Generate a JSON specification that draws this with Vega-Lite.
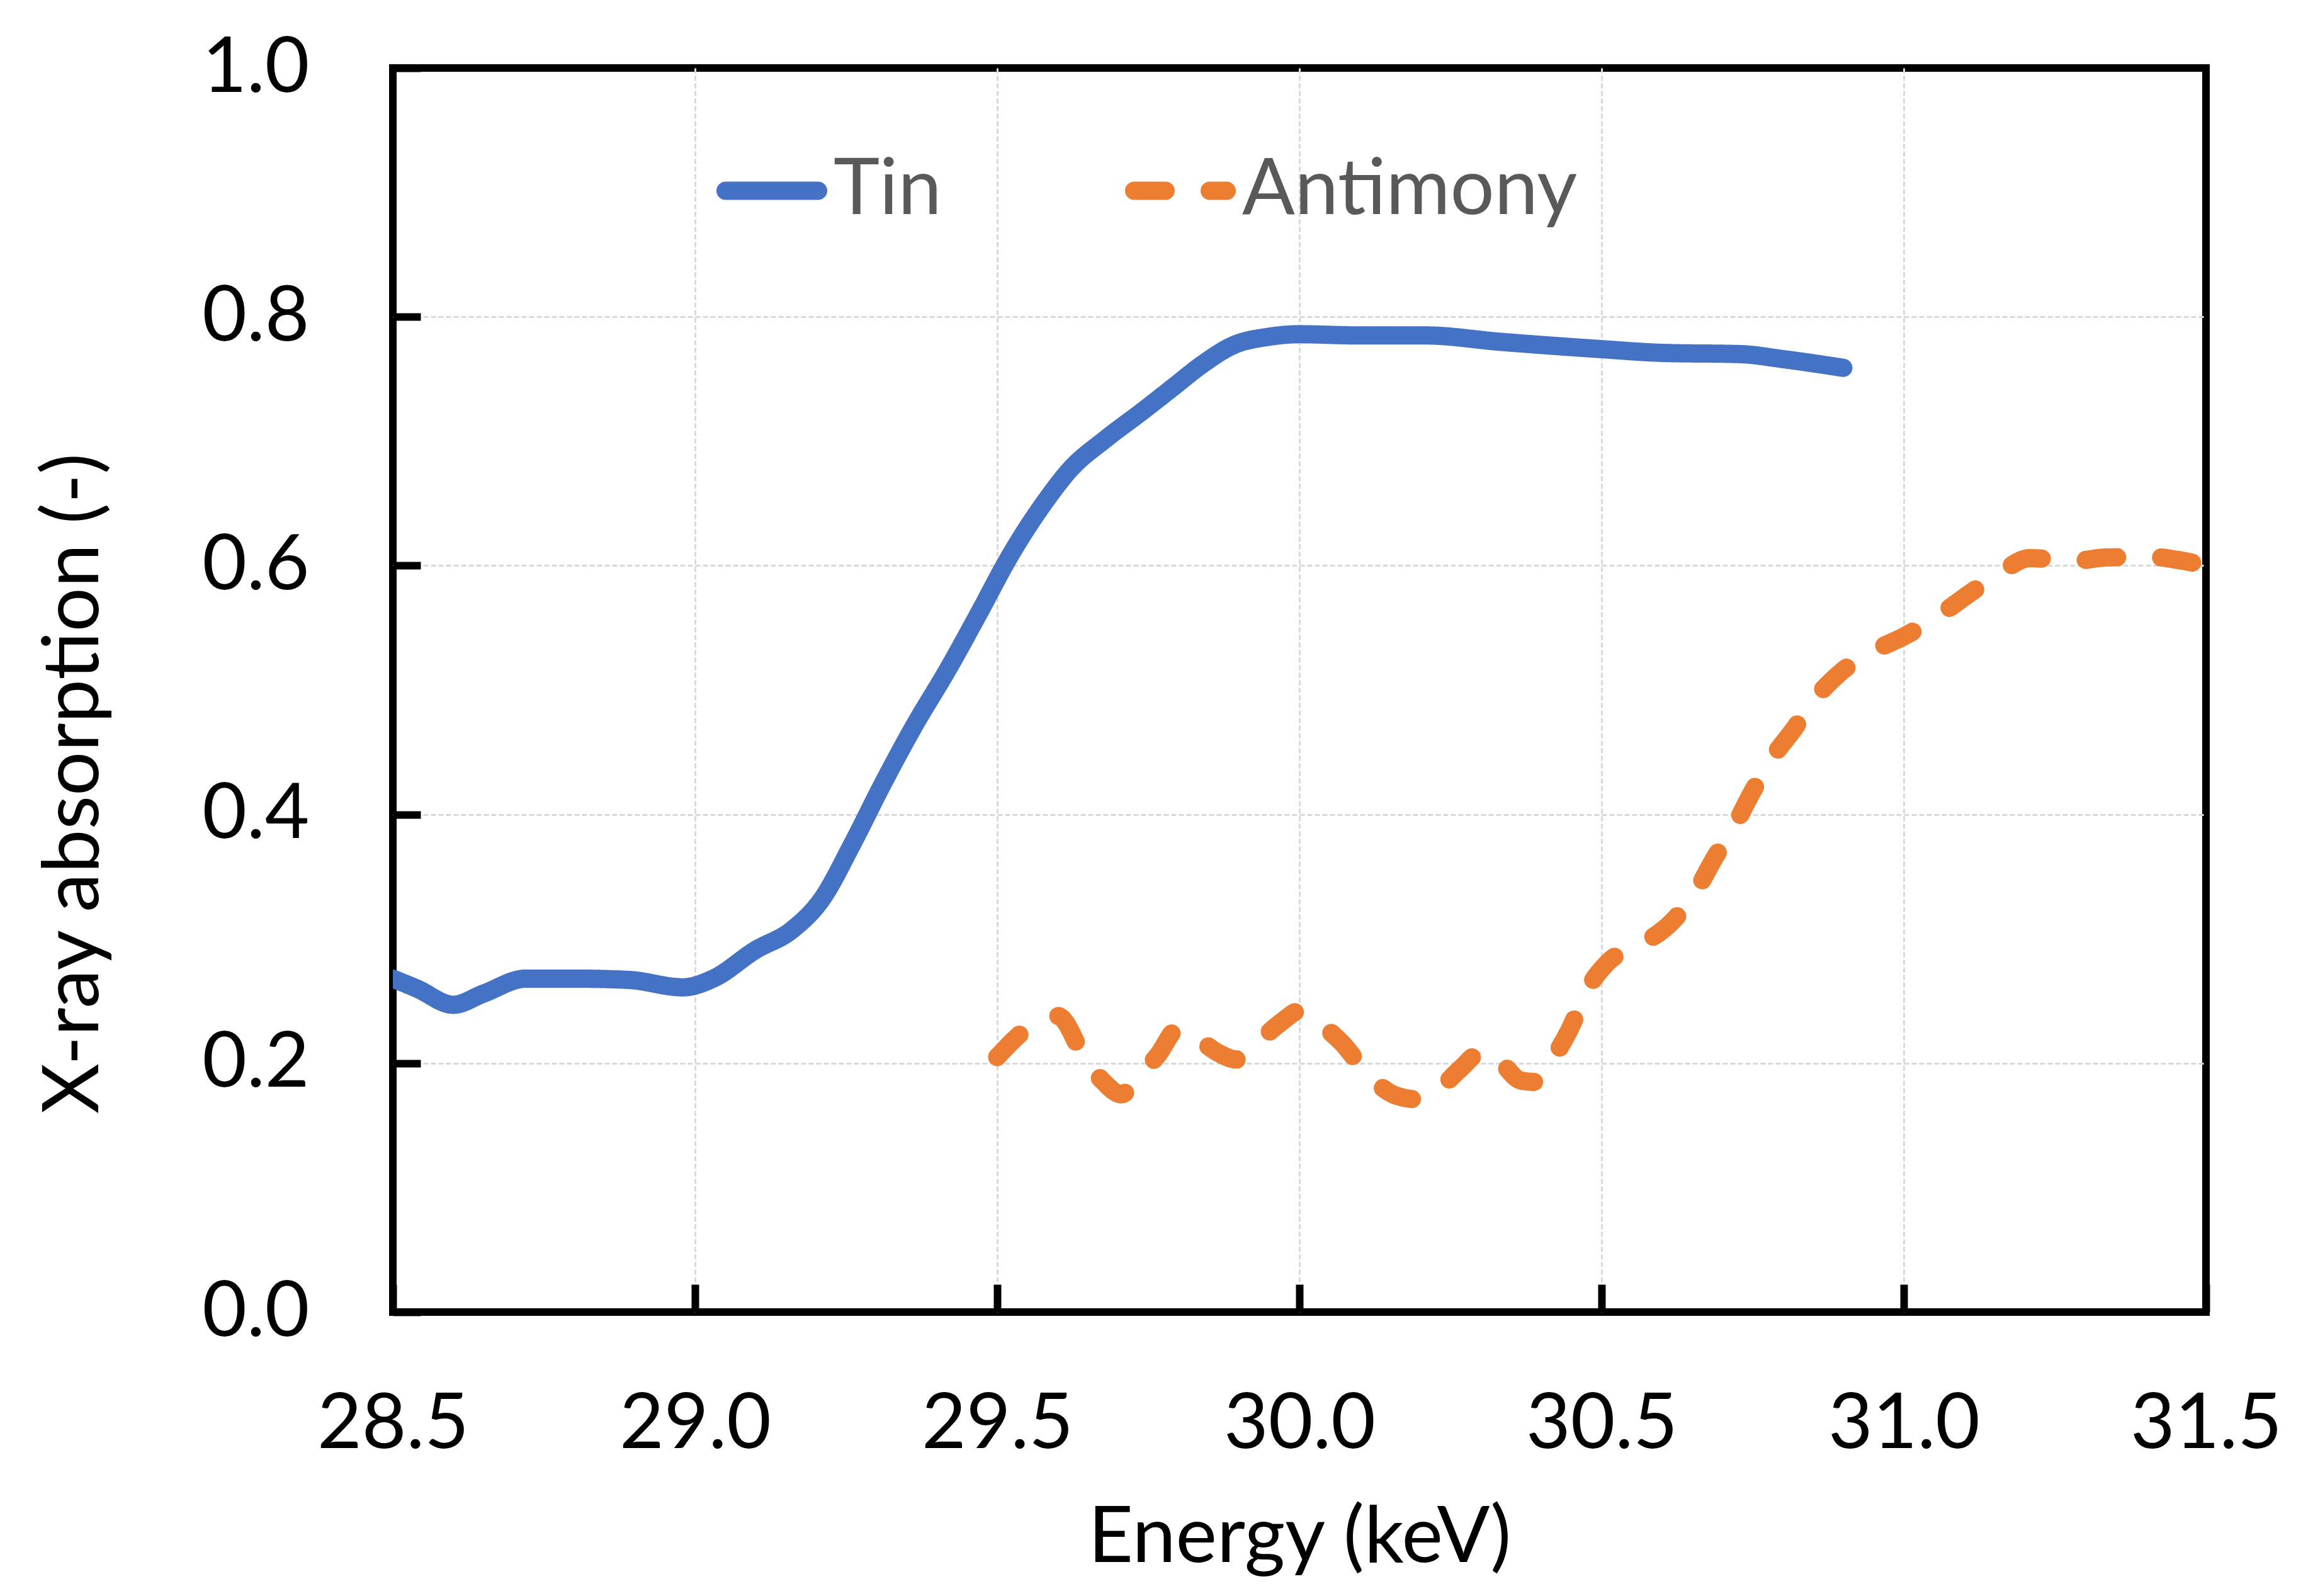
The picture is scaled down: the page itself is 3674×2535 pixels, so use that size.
{
  "$schema": "https://vega.github.io/schema/vega-lite/v6.json",
  "width": 2880,
  "height": 1976,
  "autosize": {"type": "none"},
  "padding": {"left": 624, "top": 108, "right": 170, "bottom": 451},
  "background": "white",
  "data": {
    "values": [
      {"series": "Tin", "energy": 28.5, "absorption": 0.268},
      {"series": "Tin", "energy": 28.54, "absorption": 0.26},
      {"series": "Tin", "energy": 28.6, "absorption": 0.247},
      {"series": "Tin", "energy": 28.65, "absorption": 0.256},
      {"series": "Tin", "energy": 28.72, "absorption": 0.268},
      {"series": "Tin", "energy": 28.8, "absorption": 0.268},
      {"series": "Tin", "energy": 28.89, "absorption": 0.267},
      {"series": "Tin", "energy": 28.98, "absorption": 0.261},
      {"series": "Tin", "energy": 29.03, "absorption": 0.268},
      {"series": "Tin", "energy": 29.1, "absorption": 0.291},
      {"series": "Tin", "energy": 29.16, "absorption": 0.307},
      {"series": "Tin", "energy": 29.21, "absorption": 0.332},
      {"series": "Tin", "energy": 29.26, "absorption": 0.376},
      {"series": "Tin", "energy": 29.31, "absorption": 0.424},
      {"series": "Tin", "energy": 29.36, "absorption": 0.469},
      {"series": "Tin", "energy": 29.42, "absorption": 0.518},
      {"series": "Tin", "energy": 29.47, "absorption": 0.562},
      {"series": "Tin", "energy": 29.52, "absorption": 0.607},
      {"series": "Tin", "energy": 29.58, "absorption": 0.652},
      {"series": "Tin", "energy": 29.62, "absorption": 0.677},
      {"series": "Tin", "energy": 29.68, "absorption": 0.702},
      {"series": "Tin", "energy": 29.74, "absorption": 0.724},
      {"series": "Tin", "energy": 29.79, "absorption": 0.743},
      {"series": "Tin", "energy": 29.84, "absorption": 0.762},
      {"series": "Tin", "energy": 29.89, "absorption": 0.777},
      {"series": "Tin", "energy": 29.95, "absorption": 0.784},
      {"series": "Tin", "energy": 30.0, "absorption": 0.786},
      {"series": "Tin", "energy": 30.1, "absorption": 0.785},
      {"series": "Tin", "energy": 30.21, "absorption": 0.785},
      {"series": "Tin", "energy": 30.33, "absorption": 0.78},
      {"series": "Tin", "energy": 30.5, "absorption": 0.774},
      {"series": "Tin", "energy": 30.6, "absorption": 0.771},
      {"series": "Tin", "energy": 30.73, "absorption": 0.77},
      {"series": "Tin", "energy": 30.8, "absorption": 0.766},
      {"series": "Tin", "energy": 30.9, "absorption": 0.759},
      {"series": "Antimony", "energy": 29.5, "absorption": 0.205},
      {"series": "Antimony", "energy": 29.55, "absorption": 0.228},
      {"series": "Antimony", "energy": 29.6, "absorption": 0.238},
      {"series": "Antimony", "energy": 29.646, "absorption": 0.203},
      {"series": "Antimony", "energy": 29.676, "absorption": 0.185},
      {"series": "Antimony", "energy": 29.705, "absorption": 0.175},
      {"series": "Antimony", "energy": 29.735, "absorption": 0.19},
      {"series": "Antimony", "energy": 29.765, "absorption": 0.206},
      {"series": "Antimony", "energy": 29.8, "absorption": 0.228},
      {"series": "Antimony", "energy": 29.822, "absorption": 0.223},
      {"series": "Antimony", "energy": 29.867, "absorption": 0.208},
      {"series": "Antimony", "energy": 29.896, "absorption": 0.203},
      {"series": "Antimony", "energy": 29.93, "absorption": 0.2165},
      {"series": "Antimony", "energy": 29.97, "absorption": 0.233},
      {"series": "Antimony", "energy": 30.0, "absorption": 0.242},
      {"series": "Antimony", "energy": 30.03, "absorption": 0.233},
      {"series": "Antimony", "energy": 30.07, "absorption": 0.2165},
      {"series": "Antimony", "energy": 30.115, "absorption": 0.19},
      {"series": "Antimony", "energy": 30.16, "absorption": 0.174},
      {"series": "Antimony", "energy": 30.196, "absorption": 0.171},
      {"series": "Antimony", "energy": 30.228, "absorption": 0.178},
      {"series": "Antimony", "energy": 30.265, "absorption": 0.195},
      {"series": "Antimony", "energy": 30.305, "absorption": 0.21},
      {"series": "Antimony", "energy": 30.325, "absorption": 0.205},
      {"series": "Antimony", "energy": 30.367, "absorption": 0.186},
      {"series": "Antimony", "energy": 30.39, "absorption": 0.185},
      {"series": "Antimony", "energy": 30.418, "absorption": 0.203},
      {"series": "Antimony", "energy": 30.447, "absorption": 0.227},
      {"series": "Antimony", "energy": 30.476, "absorption": 0.259},
      {"series": "Antimony", "energy": 30.51, "absorption": 0.281},
      {"series": "Antimony", "energy": 30.567, "absorption": 0.296},
      {"series": "Antimony", "energy": 30.615, "absorption": 0.313},
      {"series": "Antimony", "energy": 30.657, "absorption": 0.339},
      {"series": "Antimony", "energy": 30.685, "absorption": 0.3635},
      {"series": "Antimony", "energy": 30.72, "absorption": 0.391},
      {"series": "Antimony", "energy": 30.748, "absorption": 0.417},
      {"series": "Antimony", "energy": 30.783, "absorption": 0.446},
      {"series": "Antimony", "energy": 30.818, "absorption": 0.4685},
      {"series": "Antimony", "energy": 30.853, "absorption": 0.493},
      {"series": "Antimony", "energy": 30.895, "absorption": 0.514},
      {"series": "Antimony", "energy": 30.95, "absorption": 0.5315},
      {"series": "Antimony", "energy": 31.0, "absorption": 0.543},
      {"series": "Antimony", "energy": 31.055, "absorption": 0.559},
      {"series": "Antimony", "energy": 31.11, "absorption": 0.578},
      {"series": "Antimony", "energy": 31.16, "absorption": 0.5945},
      {"series": "Antimony", "energy": 31.208, "absorption": 0.606},
      {"series": "Antimony", "energy": 31.285, "absorption": 0.604},
      {"series": "Antimony", "energy": 31.334, "absorption": 0.6065},
      {"series": "Antimony", "energy": 31.41, "absorption": 0.607},
      {"series": "Antimony", "energy": 31.46, "absorption": 0.604},
      {"series": "Antimony", "energy": 31.5, "absorption": 0.6}
    ]
  },
  "mark": {"type": "line", "strokeWidth": 29, "strokeCap": "round", "strokeJoin": "round", "interpolate": "monotone", "clip": true},
  "encoding": {
    "x": {
      "field": "energy", "type": "quantitative",
      "scale": {"domain": [28.5, 31.5], "nice": false, "zero": false},
      "axis": {
        "values": [28.5, 29, 29.5, 30, 30.5, 31, 31.5],
        "format": ".1f",
        "title": "Energy (keV)",
        "labelPadding": 259,
        "labelBaseline": "alphabetic",
        "titleY": 396,
        "titleBaseline": "alphabetic",
        "gridOpacity": {"condition": {"test": "datum.value <= 28.5 || datum.value >= 31.5", "value": 0}, "value": 1}
      }
    },
    "y": {
      "field": "absorption", "type": "quantitative",
      "scale": {"domain": [0, 1], "nice": false},
      "axis": {
        "values": [0, 0.2, 0.4, 0.6, 0.8, 1.0],
        "format": ".1f",
        "title": "X-ray absorption (-)",
        "labelPadding": 177,
        "labelBaseline": "middle",
        "titleX": -469,
        "titleY": 1136,
        "titleAngle": -90,
        "titleAlign": "center",
        "titleBaseline": "alphabetic",
        "gridOpacity": {"condition": {"test": "datum.value <= 0 || datum.value >= 1", "value": 0}, "value": 1}
      }
    },
    "color": {
      "field": "series", "type": "nominal", "title": null,
      "scale": {"domain": ["Tin", "Antimony"], "range": ["#4472C4", "#ED7D31"]},
      "legend": {"encode": {"symbols": {"update": {"strokeCap": {"value": "round"}}}}}
    },
    "strokeDash": {
      "field": "series", "type": "nominal", "title": null,
      "scale": {"domain": ["Tin", "Antimony"], "range": [[1, 0], [50, 70]]},
      "legend": {"encode": {"symbols": {"update": {"strokeCap": {"value": "round"}}}}}
    }
  },
  "config": {
    "font": "Lato",
    "view": {"stroke": "black", "strokeWidth": 12},
    "axis": {
      "domain": false,
      "grid": true,
      "gridColor": "#d9d9d9",
      "gridWidth": 3,
      "gridDash": [8, 4],
      "ticks": true,
      "tickSize": -44,
      "tickWidth": 12,
      "tickColor": "black",
      "labelFont": "Lato",
      "labelFontSize": 122,
      "labelColor": "black",
      "labelFlush": false,
      "labelOverlap": false,
      "labelLimit": 0,
      "titleFont": "Lato",
      "titleFontSize": 124,
      "titleFontWeight": "normal",
      "titleColor": "black",
      "titlePadding": 0,
      "titleLimit": 0
    },
    "legend": {
      "orient": "none",
      "legendX": 514,
      "legendY": 107,
      "direction": "horizontal",
      "symbolType": "stroke",
      "symbolSize": 21609,
      "symbolStrokeWidth": 29,
      "labelFont": "Lato",
      "labelFontSize": 124,
      "labelColor": "#595959",
      "labelOffset": 10,
      "labelLimit": 0,
      "columnPadding": 247,
      "padding": 0,
      "offset": 0
    }
  }
}
